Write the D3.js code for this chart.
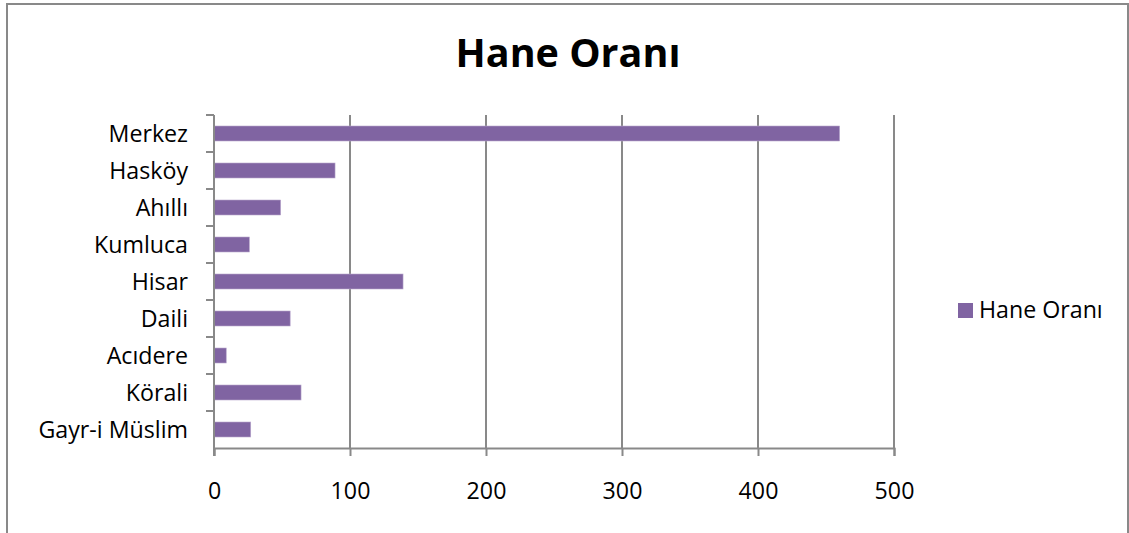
<!DOCTYPE html>
<html>
<head>
<meta charset="utf-8">
<script src="https://cdn.jsdelivr.net/npm/d3@7"></script>
<style>
  html, body { margin: 0; padding: 0; background: #fff; }
  svg { display: block; }
</style>
</head>
<body>
<svg id="chart" width="1129" height="533"></svg>
<script>
const categories = ["Merkez", "Hasköy", "Ahıllı", "Kumluca", "Hisar", "Daili", "Acıdere", "Körali", "Gayr-i Müslim"];
const values = [460, 89, 49, 26, 139, 56, 9, 64, 27];
const xTicks = [0, 100, 200, 300, 400, 500];
const seriesName = "Hane Oranı";
const titleText = "Hane Oranı";

(function () {
const svg = d3.select("#chart");
const font = "'Open Sans', 'DejaVu Sans', sans-serif";
const gray = "#898989";
const barColor = "#8064A2";
const fs = 23.2;

// outer frame
svg.append("rect")
  .attr("x", 7).attr("y", 4).attr("width", 1121).attr("height", 540)
  .attr("fill", "#fff").attr("stroke", gray).attr("stroke-width", 2);

const pLeft = 214, pRight = 894, pTop = 115, pBottom = 448;

const x = d3.scaleLinear().domain([0, 500]).range([pLeft, pRight]);
const y = d3.scaleBand().domain(categories).range([pTop, pBottom])
  .paddingInner(0.595).paddingOuter(0.2975);

// gridlines
svg.append("g").selectAll("line").data(xTicks.slice(1)).join("line")
  .attr("x1", d => x(d)).attr("x2", d => x(d))
  .attr("y1", pTop).attr("y2", pBottom)
  .attr("stroke", gray).attr("stroke-width", 2);

// bars
svg.append("g").selectAll("rect").data(values).join("rect")
  .attr("x", x(0))
  .attr("y", (d, i) => y(categories[i]))
  .attr("width", d => x(d) - x(0))
  .attr("height", y.bandwidth())
  .attr("fill", barColor)
  .attr("stroke", "#b7a6cc").attr("stroke-width", 0.6);

// x axis
const xAxis = svg.append("g").attr("transform", `translate(0,${pBottom})`)
  .call(d3.axisBottom(x).tickValues(xTicks).tickSize(8).tickPadding(27).tickFormat(d3.format("d")));
xAxis.select(".domain").attr("stroke", gray).attr("stroke-width", 2);
xAxis.selectAll(".tick line").attr("stroke", gray).attr("stroke-width", 2);
xAxis.selectAll("text").attr("font-family", font).attr("font-size", fs).attr("fill", "#000");

// y axis with boundary ticks
const yAxisG = svg.append("g");
yAxisG.append("line")
  .attr("x1", pLeft).attr("x2", pLeft).attr("y1", pTop).attr("y2", pBottom + 8)
  .attr("stroke", gray).attr("stroke-width", 2);
const boundaries = categories.map(c => y(c) - y.step() * y.paddingInner() / 2);
yAxisG.selectAll("line.tk").data(boundaries).join("line").attr("class", "tk")
  .attr("x1", pLeft - 8).attr("x2", pLeft)
  .attr("y1", d => d).attr("y2", d => d)
  .attr("stroke", gray).attr("stroke-width", 2);
yAxisG.selectAll("text").data(categories).join("text")
  .attr("x", 188)
  .attr("y", d => y(d) + y.bandwidth() / 2)
  .attr("dy", "0.36em")
  .attr("text-anchor", "end")
  .attr("font-family", font).attr("font-size", fs).attr("fill", "#000")
  .text(d => d);

// title
svg.append("text")
  .attr("x", 568).attr("y", 67)
  .attr("text-anchor", "middle")
  .attr("font-family", font).attr("font-weight", "bold").attr("font-size", 39.5)
  .attr("fill", "#000")
  .text(titleText);

// legend
const lg = svg.append("g");
lg.append("rect").attr("x", 958).attr("y", 303).attr("width", 15).attr("height", 15).attr("fill", barColor);
lg.append("text").attr("x", 979).attr("y", 318)
  .attr("font-family", font).attr("font-size", fs).attr("fill", "#000")
  .text(seriesName);
})();
</script>
</body>
</html>
